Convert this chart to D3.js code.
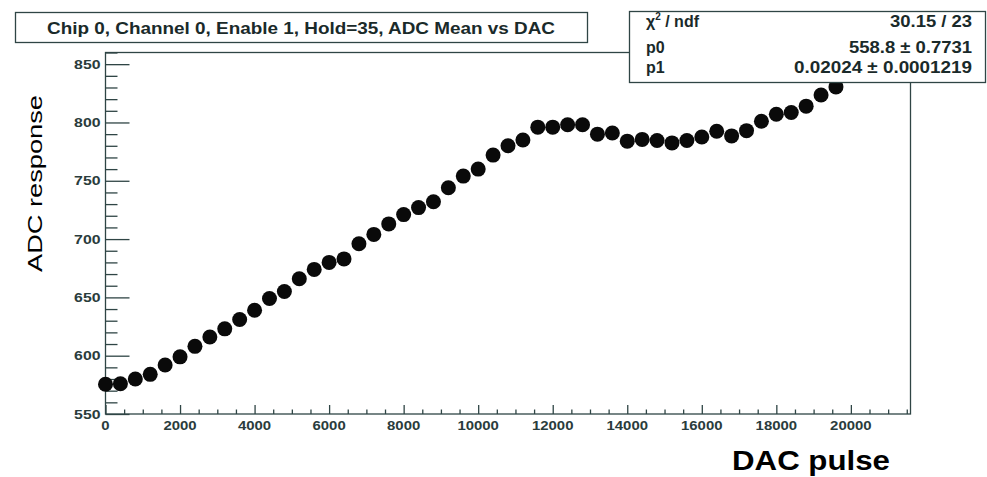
<!DOCTYPE html>
<html>
<head>
<meta charset="utf-8">
<script src="https://cdn.jsdelivr.net/npm/d3@7"></script>
<style>
  html, body { margin: 0; padding: 0; background: #fff; }
  svg { display: block; }
</style>
</head>
<body>
<svg id="chart" width="987" height="477"></svg>
<script>
// ---- data ----
const dacPulse = [0, 400, 800, 1200, 1600, 2000, 2400, 2800, 3200, 3600,
  4000, 4400, 4800, 5200, 5600, 6000, 6400, 6800, 7200, 7600,
  8000, 8400, 8800, 9200, 9600, 10000, 10400, 10800, 11200, 11600,
  12000, 12400, 12800, 13200, 13600, 14000, 14400, 14800, 15200, 15600,
  16000, 16400, 16800, 17200, 17600, 18000, 18400, 18800, 19200, 19600];
const adcMean = [575.5, 576, 580, 584, 592, 599, 608, 616, 623, 631,
  639, 649, 655, 666, 674, 680, 683, 696, 704, 713,
  721, 727, 732, 744, 754, 760, 772, 780, 785, 796,
  796, 798, 798, 790, 791, 784, 785.5, 784.5, 782.5, 784.5,
  787.5, 792.5, 788.5, 793, 801, 807, 808.5, 814, 823.5, 830.5];
const xTickLabels = ["0", "2000", "4000", "6000", "8000", "10000", "12000", "14000", "16000", "18000", "20000"];
const yTickLabels = ["550", "600", "650", "700", "750", "800", "850"];
const titleText = "Chip 0, Channel 0, Enable 1, Hold=35, ADC Mean vs DAC";
const statLabels = ["χ2 / ndf", "p0", "p1"];
const statValues = ["30.15 / 23", "558.8 \u00b1 0.7731", "0.02024 \u00b1 0.0001219"];
const xTitle = "DAC pulse";
const yTitle = "ADC response";

// ---- layout ----
const svg = d3.select("#chart");
const frame = {left: 105.5, right: 910.5, top: 52.5, bottom: 414};
const x = d3.scaleLinear().domain([0, 21600]).range([frame.left, frame.right]);
const y = d3.scaleLinear().domain([550, 860]).range([frame.bottom, frame.top]);
const lineCol = "#2f4545";
const textCol = "#2a3c3c";
const font = "Liberation Sans, Arial, sans-serif";

// frame
svg.append("rect")
  .attr("x", frame.left).attr("y", frame.top)
  .attr("width", frame.right - frame.left).attr("height", frame.bottom - frame.top)
  .attr("fill", "none").attr("stroke", lineCol).attr("stroke-width", 1.3);

// y axis ticks (inward)
const yMajor = yTickLabels.map(Number);
const yMinor = d3.range(550, 861, 10).filter(v => v % 50 !== 0);
const yAxisMajor = d3.axisRight(y).tickValues(yMajor).tickSize(24).tickFormat("");
const yAxisMinor = d3.axisRight(y).tickValues(yMinor).tickSize(12).tickFormat("");
[yAxisMajor, yAxisMinor].forEach(ax => {
  const g = svg.append("g").attr("transform", `translate(${frame.left},0)`).call(ax);
  g.select(".domain").remove();
  g.selectAll("line").attr("stroke", lineCol).attr("stroke-width", 1.3);
});
svg.append("g").selectAll("text").data(yTickLabels).join("text")
  .attr("x", frame.left - 5).attr("y", d => y(+d) + 4.5)
  .attr("text-anchor", "end")
  .attr("font-family", font).attr("font-weight", "bold")
  .attr("font-size", 12).attr("fill", textCol)
  .attr("textLength", d => d.length * 8.8).attr("lengthAdjust", "spacingAndGlyphs")
  .text(d => d);

// x axis ticks (inward)
const xMajor = xTickLabels.map(Number);
const xMinor = d3.range(0, 21600, 500).filter(v => v % 2000 !== 0);
const xAxisMajor = d3.axisTop(x).tickValues(xMajor).tickSize(9).tickFormat("");
const xAxisMinor = d3.axisTop(x).tickValues(xMinor).tickSize(4.5).tickFormat("");
[xAxisMajor, xAxisMinor].forEach(ax => {
  const g = svg.append("g").attr("transform", `translate(0,${frame.bottom})`).call(ax);
  g.select(".domain").remove();
  g.selectAll("line").attr("stroke", lineCol).attr("stroke-width", 1.3);
});
svg.append("g").selectAll("text").data(xTickLabels).join("text")
  .attr("x", d => x(+d)).attr("y", 430)
  .attr("text-anchor", "middle")
  .attr("font-family", font).attr("font-weight", "bold")
  .attr("font-size", 12).attr("fill", textCol)
  .attr("textLength", d => d.length * 8.3).attr("lengthAdjust", "spacingAndGlyphs")
  .text(d => d);

// points
svg.append("g").selectAll("circle").data(dacPulse.map((d, i) => [d, adcMean[i]])).join("circle")
  .attr("cx", d => x(d[0])).attr("cy", d => y(d[1]))
  .attr("r", 7.5).attr("fill", "#0a0a0a");

// title box
svg.append("rect").attr("x", 15.5).attr("y", 12.5).attr("width", 572).attr("height", 30)
  .attr("fill", "#fff").attr("stroke", lineCol).attr("stroke-width", 1.3);
svg.append("text").attr("x", 47).attr("y", 34)
  .attr("font-family", font).attr("font-weight", "bold")
  .attr("font-size", 17).attr("fill", "#1a2a2a")
  .attr("textLength", 508).attr("lengthAdjust", "spacingAndGlyphs")
  .text(titleText);

// stats box
svg.append("rect").attr("x", 629.5).attr("y", 11.5).attr("width", 356).attr("height", 71)
  .attr("fill", "#fff").attr("stroke", lineCol).attr("stroke-width", 1.3);
const statY = [26.5, 53, 73];
const statValueW = [82, 123, 178];
statLabels.forEach((lab, i) => {
  const t = svg.append("text").attr("x", 646).attr("y", statY[i])
    .attr("font-family", font).attr("font-weight", "bold")
    .attr("font-size", 16).attr("fill", "#1a2a2a");
  if (i === 0) {
    t.append("tspan").text("χ");
    t.append("tspan").attr("dy", -7).attr("font-size", 10).text("2");
    t.append("tspan").attr("dy", 7).text(" / ndf");
  } else {
    t.text(lab);
  }
});
statValues.forEach((v, i) => {
  svg.append("text").attr("x", 972).attr("y", statY[i]).attr("text-anchor", "end")
    .attr("font-family", font).attr("font-weight", "bold")
    .attr("font-size", 16).attr("fill", "#1a2a2a")
    .attr("textLength", statValueW[i]).attr("lengthAdjust", "spacingAndGlyphs")
    .text(v);
});

// axis titles
svg.append("text").attr("x", 890).attr("y", 470).attr("text-anchor", "end")
  .attr("font-family", font).attr("font-weight", "bold")
  .attr("font-size", 27).attr("fill", "#000")
  .attr("textLength", 158).attr("lengthAdjust", "spacingAndGlyphs")
  .text(xTitle);
svg.append("text").attr("transform", "translate(42,272) rotate(-90)")
  .attr("font-family", font)
  .attr("font-size", 20).attr("fill", "#000")
  .attr("textLength", 177).attr("lengthAdjust", "spacingAndGlyphs")
  .text(yTitle);
</script>
</body>
</html>
